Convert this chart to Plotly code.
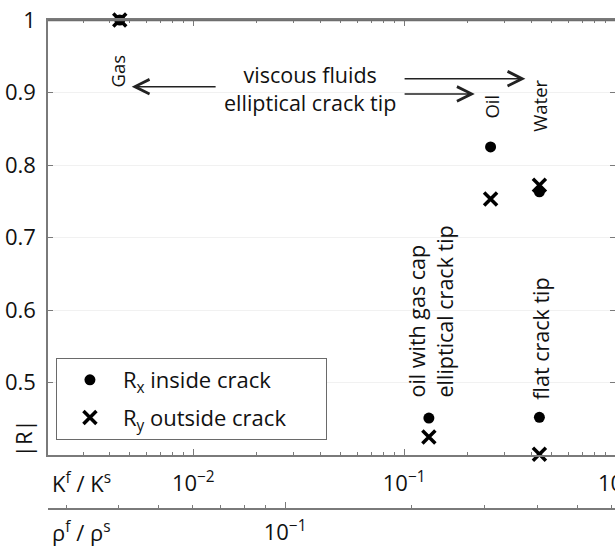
import plotly.graph_objects as go

# ---- data ----
fluids = ["Gas", "oil with gas cap", "Oil", "Water", "flat crack tip"]
k_ratio = [0.00448, 0.131, 0.257, 0.438, 0.438]
rx_inside = [1.0, 0.451, 0.825, 0.763, 0.452]
ry_outside = [1.0, 0.425, 0.753, 0.772, 0.401]

y_ticks = [0.5, 0.6, 0.7, 0.8, 0.9, 1.0]
k_major = [0.01, 0.1, 1.0]
k_major_text = ["10<sup>−2</sup>", "10<sup>−1</sup>", "10<sup>0</sup>"]
rho_major = [0.1]
rho_major_text = ["10<sup>−1</sup>"]

k_minor = [m * 10.0 ** e for e in (-3, -2, -1) for m in range(2, 10)]
rho_minor = [m * 10.0 ** e for e in (-2, -1) for m in range(2, 10)]

FONT = "Open Sans"
AX = "#7a7a7a"
TXT = "#111111"
PAD = "&nbsp;" * 6

fig = go.Figure()
fig.add_trace(go.Scatter(
    x=k_ratio, y=rx_inside, mode="markers", name="R<sub>x</sub> inside crack" + PAD,
    marker=dict(symbol="circle", size=11, color="black"),
    cliponaxis=False, legendgroup="a"))
fig.add_trace(go.Scatter(
    x=k_ratio, y=ry_outside, mode="markers", name="R<sub>y</sub> outside crack" + PAD,
    marker=dict(symbol="x-thin-open", size=13, color="black",
                line=dict(width=3.5, color="black")),
    cliponaxis=False, legendgroup="b"))
# empty trace so the density axis is drawn
fig.add_trace(go.Scatter(x=[], y=[], xaxis="x2", yaxis="y", showlegend=False))

fig.update_layout(
    width=615, height=552,
    margin=dict(l=48, r=0, t=20, b=43, autoexpand=False),
    paper_bgcolor="white", plot_bgcolor="white",
    font=dict(family=FONT, size=21, color=TXT),
    showlegend=True,
    legend=dict(x=0.014, y=0.3088, xanchor="left", yanchor="top",
                bordercolor="#6a6a6a", borderwidth=1, bgcolor="white",
                font=dict(family=FONT, size=22, color=TXT),
                traceorder="grouped", tracegroupgap=6, itemwidth=56),
    yaxis=dict(domain=[0.1104, 1.0], range=[0.4, 1.0], tickvals=y_ticks,
               ticktext=[f"{v:g}" for v in y_ticks], automargin=False,
               ticks="inside", ticklen=5, tickcolor=AX, tickwidth=1,
               showline=True, linecolor=AX, linewidth=1.5, mirror="ticks",
               showgrid=True, gridcolor="#f1f1f1", gridwidth=1, zeroline=False,
               ticklabelstandoff=6, tickfont=dict(size=22)),
    xaxis=dict(type="log", range=[-2.689, 0.0], anchor="y", automargin=False,
               tickvals=k_major, ticktext=k_major_text, ticklabeloverflow="allow",
               ticks="inside", ticklen=6, tickcolor=AX, tickwidth=1,
               minor=dict(tickvals=k_minor, ticks="inside", ticklen=3,
                          tickcolor=AX, showgrid=False),
               showline=True, linecolor=AX, linewidth=1.5, mirror="allticks",
               showgrid=False, zeroline=False, ticklabelstandoff=8,
               tickfont=dict(size=22)),
    xaxis2=dict(type="log", range=[-1.566, -0.2124], overlaying="x",
                anchor="free", position=0, side="bottom", automargin=False,
                tickvals=rho_major, ticktext=rho_major_text,
                ticks="inside", ticklen=6, tickcolor=AX, tickwidth=1,
                minor=dict(tickvals=rho_minor, ticks="inside", ticklen=3,
                           tickcolor=AX, showgrid=False),
                showline=True, linecolor=AX, linewidth=1.5,
                showgrid=False, zeroline=False, ticklabelstandoff=4,
                tickfont=dict(size=22)),
)

# top frame line of the axes box (paper top coincides with the plot top)
fig.add_shape(type="line", xref="paper", yref="paper", x0=0, x1=1, y0=0.999, y1=0.999,
              line=dict(color="#6e6e6e", width=1.6), layer="above")

arrow = dict(showarrow=True, arrowhead=5, arrowsize=1.8, arrowwidth=1.6,
             arrowcolor="#222", xref="x", yref="y", axref="x", ayref="y", text="")
fig.add_annotation(x=-2.292, y=0.908, ax=-1.887, ay=0.908, **arrow)
fig.add_annotation(x=-0.425, y=0.919, ax=-1.005, ay=0.919, **arrow)
fig.add_annotation(x=-0.665, y=0.898, ax=-1.005, ay=0.898, **arrow)

txt = dict(showarrow=False, xref="x", yref="y", xanchor="center", yanchor="middle",
           font=dict(family=FONT, size=21.5, color=TXT))
small = dict(showarrow=False, xref="x", yref="y", xanchor="center", yanchor="middle",
             textangle=-90, font=dict(family=FONT, size=18.5, color=TXT))
fig.add_annotation(x=-1.448, y=0.906, text="viscous fluids<br>elliptical crack tip", **txt)
fig.add_annotation(x=-2.358, y=0.930, text=fluids[0], **small)
fig.add_annotation(x=-0.590, y=0.880, text=fluids[2], **small)
fig.add_annotation(x=-0.358, y=0.881, text=fluids[3], **small)
fig.add_annotation(x=-0.877, y=0.598, text="oil with gas cap<br>elliptical crack tip",
                   textangle=-90, align="left", **txt)
fig.add_annotation(x=-0.354, y=0.561, text=fluids[4], textangle=-90, **txt)

lab = dict(showarrow=False, xref="paper", yref="paper", yanchor="middle",
           font=dict(family=FONT, size=22, color=TXT))
fig.add_annotation(x=0.0035, y=0.0552, xanchor="left", text="K<sup>f</sup> / K<sup>s</sup>", **lab)
fig.add_annotation(x=0.0035, y=-0.045, xanchor="left", text="ρ<sup>f</sup> / ρ<sup>s</sup>", **lab)
fig.add_annotation(x=-0.044, y=0.145, xanchor="center", text="|R|", textangle=-90, **lab)

fig.write_html("out.html", config={"displayModeBar": False},
               post_script="document.body.style.margin='0';"
                           "document.body.style.overflow='hidden';")
